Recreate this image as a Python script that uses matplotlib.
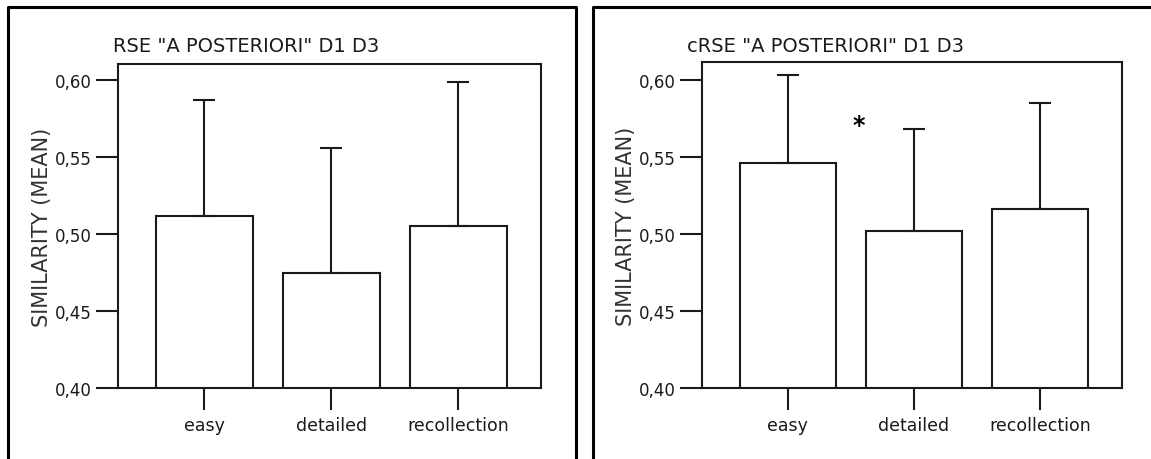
import matplotlib
matplotlib.use("Agg")
import matplotlib.pyplot as plt
from matplotlib.lines import Line2D
from matplotlib.ticker import FuncFormatter

plt.rcParams['font.family'] = ['DejaVu Sans']

# means and upper error (one SD) per condition
categories = ['easy', 'detailed', 'recollection']
rse_means = [0.512, 0.475, 0.505]
rse_err = [0.075, 0.081, 0.094]
crse_means = [0.546, 0.502, 0.516]
crse_err = [0.057, 0.066, 0.069]

W, H = 1151, 460
fig = plt.figure(figsize=(W / 100, H / 100), dpi=100)
ink = '#1a1a1a'


def px(x, y):
    return x / W, 1 - y / H


def frame(points):
    xs, ys = zip(*[px(x, y) for x, y in points])
    fig.add_artist(Line2D(xs, ys, color='black', lw=2.2, transform=fig.transFigure))


frame([(8, 470), (8, 8), (576, 8), (576, 470)])
frame([(593, 470), (593, 8), (1160, 8)])

comma = FuncFormatter(lambda v, p: f"{v:.2f}".replace('.', ','))


def panel(left_px, right_px, top_px, means, errs, title, title_x):
    x0, y1 = px(left_px, top_px)
    x1, y0 = px(right_px, 389)
    ax = fig.add_axes([x0, y0, x1 - x0, y1 - y0])
    pos = range(len(categories))
    ax.bar(pos, means, width=0.76, bottom=0, color='white', edgecolor=ink,
           linewidth=1.5, zorder=2)
    ax.errorbar(pos, means, yerr=[[0] * len(errs), errs], fmt='none',
                ecolor=ink, elinewidth=1.5, capsize=8, capthick=1.5, zorder=3)
    ax.set_xlim(-0.68, 2.65)
    ax.set_ylim(0.40, 0.40 + (389 - top_px) / 1540)
    ax.set_yticks([0.40, 0.45, 0.50, 0.55, 0.60])
    ax.yaxis.set_major_formatter(comma)
    ax.set_xticks(list(pos))
    ax.set_xticklabels(categories, fontsize=12.5)
    ax.tick_params(axis='both', direction='out', length=16, width=1.5,
                   color=ink, labelcolor=ink)
    ax.tick_params(axis='y', labelsize=12, pad=3)
    ax.tick_params(axis='x', pad=4)
    for s in ax.spines.values():
        s.set_linewidth(1.5)
        s.set_color(ink)
    ax.set_ylabel('SIMILARITY (MEAN)', fontsize=15, color='#333333', labelpad=2)
    fig.text(*px(title_x, 46), title, fontsize=14, color=ink,
             ha='left', va='center')
    return ax


panel(118, 541, 65, rse_means, rse_err, 'RSE "A POSTERIORI" D1 D3', 113)
ax2 = panel(702, 1122, 63.3, crse_means, crse_err, 'cRSE "A POSTERIORI" D1 D3', 687)
ax2.text(0.56, 0.571, '*', fontsize=17, fontweight='bold', ha='center', va='center')

fig.savefig('out.png', dpi=100)
